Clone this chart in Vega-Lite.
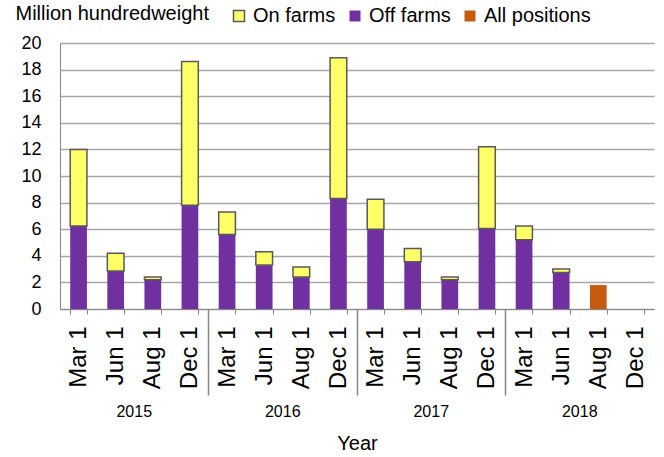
{
  "$schema": "https://vega.github.io/schema/vega-lite/v6.json",
  "width": 594,
  "height": 266,
  "autosize": "none",
  "padding": {"left": 60, "top": 43, "right": 10, "bottom": 148},
  "config": {"font": "Liberation Sans", "view": {"stroke": null}},
  "data": {
    "values": [
      {"key": "2015 Mar 1", "year": "2015", "series": "Off farms", "value": 6.25, "ord": 1},
      {"key": "2015 Mar 1", "year": "2015", "series": "On farms", "value": 5.75, "ord": 2},
      {"key": "2015 Jun 1", "year": "2015", "series": "Off farms", "value": 2.85, "ord": 1},
      {"key": "2015 Jun 1", "year": "2015", "series": "On farms", "value": 1.35, "ord": 2},
      {"key": "2015 Aug 1", "year": "2015", "series": "Off farms", "value": 2.2, "ord": 1},
      {"key": "2015 Aug 1", "year": "2015", "series": "On farms", "value": 0.2, "ord": 2},
      {"key": "2015 Dec 1", "year": "2015", "series": "Off farms", "value": 7.8, "ord": 1},
      {"key": "2015 Dec 1", "year": "2015", "series": "On farms", "value": 10.8, "ord": 2},
      {"key": "2016 Mar 1", "year": "2016", "series": "Off farms", "value": 5.6, "ord": 1},
      {"key": "2016 Mar 1", "year": "2016", "series": "On farms", "value": 1.7, "ord": 2},
      {"key": "2016 Jun 1", "year": "2016", "series": "Off farms", "value": 3.3, "ord": 1},
      {"key": "2016 Jun 1", "year": "2016", "series": "On farms", "value": 1.0, "ord": 2},
      {"key": "2016 Aug 1", "year": "2016", "series": "Off farms", "value": 2.4, "ord": 1},
      {"key": "2016 Aug 1", "year": "2016", "series": "On farms", "value": 0.75, "ord": 2},
      {"key": "2016 Dec 1", "year": "2016", "series": "Off farms", "value": 8.3, "ord": 1},
      {"key": "2016 Dec 1", "year": "2016", "series": "On farms", "value": 10.6, "ord": 2},
      {"key": "2017 Mar 1", "year": "2017", "series": "Off farms", "value": 6.0, "ord": 1},
      {"key": "2017 Mar 1", "year": "2017", "series": "On farms", "value": 2.25, "ord": 2},
      {"key": "2017 Jun 1", "year": "2017", "series": "Off farms", "value": 3.55, "ord": 1},
      {"key": "2017 Jun 1", "year": "2017", "series": "On farms", "value": 1.0, "ord": 2},
      {"key": "2017 Aug 1", "year": "2017", "series": "Off farms", "value": 2.2, "ord": 1},
      {"key": "2017 Aug 1", "year": "2017", "series": "On farms", "value": 0.2, "ord": 2},
      {"key": "2017 Dec 1", "year": "2017", "series": "Off farms", "value": 6.05, "ord": 1},
      {"key": "2017 Dec 1", "year": "2017", "series": "On farms", "value": 6.15, "ord": 2},
      {"key": "2018 Mar 1", "year": "2018", "series": "Off farms", "value": 5.2, "ord": 1},
      {"key": "2018 Mar 1", "year": "2018", "series": "On farms", "value": 1.05, "ord": 2},
      {"key": "2018 Jun 1", "year": "2018", "series": "Off farms", "value": 2.75, "ord": 1},
      {"key": "2018 Jun 1", "year": "2018", "series": "On farms", "value": 0.25, "ord": 2},
      {"key": "2018 Aug 1", "year": "2018", "series": "All positions", "value": 1.8, "ord": 1}
    ]
  },
  "layer": [
    {
      "mark": {"type": "bar", "strokeWidth": 1.5},
      "encoding": {
        "x": {
          "field": "key",
          "type": "nominal",
          "sort": null,
          "scale": {
            "domain": ["2015 Mar 1", "2015 Jun 1", "2015 Aug 1", "2015 Dec 1", "2016 Mar 1", "2016 Jun 1", "2016 Aug 1", "2016 Dec 1", "2017 Mar 1", "2017 Jun 1", "2017 Aug 1", "2017 Dec 1", "2018 Mar 1", "2018 Jun 1", "2018 Aug 1", "2018 Dec 1"],
            "paddingInner": 0.55,
            "paddingOuter": 0.275
          },
          "axis": {
            "orient": "bottom",
            "title": null,
            "labelExpr": "isString(datum.value) ? substring(datum.value, 5) : ''",
            "labelAngle": -90,
            "labelAlign": "right",
            "labelBaseline": "middle",
            "labelFontSize": 24,
            "labelColor": "#000000",
            "labelPadding": 12,
            "tickBand": "extent",
            "tickSize": 5,
            "tickColor": "#868686",
            "domainColor": "#868686"
          }
        },
        "y": {
          "field": "value",
          "type": "quantitative",
          "stack": "zero",
          "scale": {"domain": [0, 20], "nice": false},
          "axis": {
            "values": [0, 2, 4, 6, 8, 10, 12, 14, 16, 18, 20],
            "title": "Million hundredweight",
            "titleAngle": 0,
            "titleAlign": "left",
            "titleBaseline": "alphabetic",
            "titleX": -45,
            "titleY": -24,
            "titleFontSize": 20,
            "titleFontWeight": "normal",
            "titleColor": "#000000",
            "labelFontSize": 18,
            "labelColor": "#000000",
            "labelPadding": 19,
            "ticks": false,
            "grid": true,
            "gridColor": "#a6a6a6",
            "gridWidth": 1.5,
            "domainColor": "#868686"
          }
        },
        "color": {
          "field": "series",
          "type": "nominal",
          "scale": {"domain": ["On farms", "Off farms", "All positions"], "range": ["#ffff66", "#7030a0", "#c55a11"]},
          "legend": {
            "title": null,
            "orient": "none",
            "direction": "horizontal",
            "legendX": 169,
            "legendY": -37,
            "symbolType": "square",
            "symbolSize": 121,
            "symbolOpacity": 1,
            "symbolStrokeWidth": 1.5,
            "labelFontSize": 20,
            "labelColor": "#000000",
            "labelOffset": 4,
            "columnPadding": 9
          }
        },
        "stroke": {
          "field": "series",
          "type": "nominal",
          "scale": {"domain": ["On farms", "Off farms", "All positions"], "range": ["#595959", "rgba(0,0,0,0)", "rgba(0,0,0,0)"]},
          "legend": {
            "title": null,
            "orient": "none",
            "direction": "horizontal",
            "legendX": 169,
            "legendY": -37,
            "symbolType": "square",
            "symbolSize": 121,
            "symbolOpacity": 1,
            "symbolStrokeWidth": 1.5,
            "labelFontSize": 20,
            "labelColor": "#000000",
            "labelOffset": 4,
            "columnPadding": 9
          }
        },
        "order": {"field": "ord", "type": "quantitative"}
      }
    },
    {
      "mark": {"type": "bar", "opacity": 0},
      "encoding": {
        "x": {
          "field": "year",
          "type": "nominal",
          "scale": {"paddingInner": 0, "paddingOuter": 0},
          "axis": {
            "orient": "bottom",
            "domain": false,
            "labels": false,
            "values": ["2016", "2017", "2018"],
            "bandPosition": 0,
            "tickExtra": false,
            "tickSize": 86,
            "tickWidth": 1.5,
            "tickColor": "#868686",
            "title": null
          }
        }
      }
    },
    {
      "mark": {"type": "bar", "opacity": 0},
      "encoding": {
        "x": {
          "field": "year",
          "type": "nominal",
          "scale": {"paddingInner": 0, "paddingOuter": 0},
          "axis": {
            "orient": "bottom",
            "domain": false,
            "ticks": false,
            "labelAngle": 0,
            "labelFontSize": 16,
            "labelColor": "#000000",
            "labelPadding": 94,
            "title": "Year",
            "titleFontSize": 20,
            "titleFontWeight": "normal",
            "titleColor": "#000000",
            "titlePadding": 14
          }
        }
      }
    }
  ],
  "resolve": {"scale": {"x": "independent"}, "axis": {"x": "independent"}}
}
